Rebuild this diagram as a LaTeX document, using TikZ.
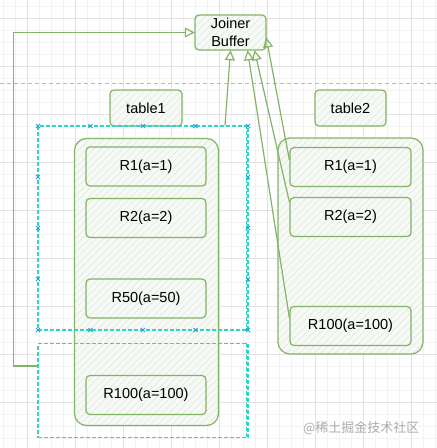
\documentclass[tikz,border=0pt]{standalone}
\usepackage{fontspec}
\setmainfont{Liberation Sans}
\newfontfamily\cjkfont{Noto Sans CJK SC}
\usetikzlibrary{arrows.meta,patterns.meta,positioning}
\definecolor{sketchgreen}{HTML}{82B366}
\definecolor{sketchfill}{HTML}{F6F9F5}
\definecolor{hatchgreen}{HTML}{DDE9D8}
\definecolor{selcyan}{HTML}{2ED6C2}
\definecolor{selblue}{HTML}{2A9FE0}
\definecolor{gridmajor}{HTML}{E2E2E2}
\definecolor{gridminor}{HTML}{F3F3F3}
\tikzset{sketch/.style={draw=sketchgreen, line width=1.2pt, rounded corners=4pt, preaction={fill=sketchfill}, pattern={Lines[angle=45,distance=5pt,line width=0.5pt]}, pattern color=hatchgreen, font=\fontsize{14.5}{18}\selectfont, inner sep=0pt}}
\tikzset{record/.style={sketch, minimum width=120pt, minimum height=39pt}}
\tikzset{tablebox/.style={sketch, rounded corners=12pt}}
\tikzset{selbox/.style={draw=selcyan, line width=1.2pt, dash pattern=on 4pt off 2pt, inner sep=0pt}}
\tikzset{selmk/.style={draw=selblue, line width=0.8pt}}
\tikzset{link/.style={draw=sketchgreen, line width=1.2pt, -{Triangle[open, length=10pt, width=10pt]}}}

\begin{document}
\begin{tikzpicture}[x=1pt,y=-1pt]
    \useasboundingbox (0,0) rectangle (437,448);
    % background grid
    \foreach \x in {3,15,...,435} \draw[gridminor, line width=0.4pt] (\x,0) -- (\x,448);
    \foreach \y in {6,18,...,446} \draw[gridminor, line width=0.4pt] (0,\y) -- (437,\y);
    \foreach \x in {27,75,...,435} \draw[gridmajor, line width=0.6pt] (\x,0) -- (\x,448);
    \foreach \y in {18,66,...,446} \draw[gridmajor, line width=0.6pt] (0,\y) -- (437,\y);
    \draw[gray!55, line width=0.6pt, dash pattern=on 4pt off 3pt] (0,83) -- (437,83);

    \node[sketch, minimum width=71pt, minimum height=35pt, align=center] (buf) at (230.5,32.5) {Joiner\\Buffer};

    % table1
    \node[sketch, minimum width=72pt, minimum height=36pt] (t1lab) at (146,108) {table1};
    \node[tablebox, minimum width=144pt, minimum height=287pt] (t1) at (146.5,282) {};
    \node[record] (t1r1) at (146,166.5) {R1(a=1)};
    \node[record] (t1r2) at (146,218) {R2(a=2)};
    \node[record] (t1r50) at (146,298.5) {R50(a=50)};
    \node[record] (t1r100) at (146,395) {R100(a=100)};

    % table2
    \node[sketch, minimum width=71pt, minimum height=36pt] (t2lab) at (350.5,108) {table2};
    \node[tablebox, minimum width=145pt, minimum height=216pt] (t2) at (350.5,246) {};
    \node[record, minimum width=121pt] (t2r1) at (350.5,167) {R1(a=1)};
    \node[record, minimum width=121pt] (t2r2) at (350.5,217) {R2(a=2)};
    \node[record, minimum width=121pt] (t2r100) at (350.5,326) {R100(a=100)};

    % selections
    \node[selbox, minimum width=210pt, minimum height=204pt] (sel1) at (143,228) {};
    \node[selbox, minimum width=210pt, minimum height=94pt] (sel2) at (143,390.5) {};
    \draw[selbox] ([xshift=-2.5pt]sel1.north east) -- ([xshift=-2.5pt]sel1.south east);
    \draw[selbox] ([xshift=-2.5pt]sel2.north east) -- ([xshift=-2.5pt]sel2.south east);
    \foreach \x in {38,90.5,143,195.5,248} {
        \draw[selmk] (\x,126) +(-2,-2) -- +(2,2) +(-2,2) -- +(2,-2);
        \draw[selmk] (\x,330) +(-2,-2) -- +(2,2) +(-2,2) -- +(2,-2);
    }
    \foreach \y in {177,228,279} {
        \draw[selmk] (38,\y) +(-2,-2) -- +(2,2) +(-2,2) -- +(2,-2);
        \draw[selmk] (248,\y) +(-2,-2) -- +(2,2) +(-2,2) -- +(2,-2);
    }

    % links
    \draw[link] ([yshift=24.5pt]sel2.west) -- ++(-24,0) |- (buf.west);
    \draw[link] ([xshift=82pt]sel1.north) -- (buf.south);
    \draw[link] ([yshift=7pt]t2r1.west) -- ([yshift=-5pt]buf.east);
    \draw[link] ([yshift=15pt]t2r2.west) -- ([xshift=24pt]buf.south);
    \draw[link] ([yshift=8pt]t2r100.west) -- ([xshift=17pt]buf.south);

    \node[font=\cjkfont\fontsize{13}{15}\selectfont, text=gray!65, anchor=east] (wm) at (423,428) {@稀土掘金技术社区};
\end{tikzpicture}
\end{document}
